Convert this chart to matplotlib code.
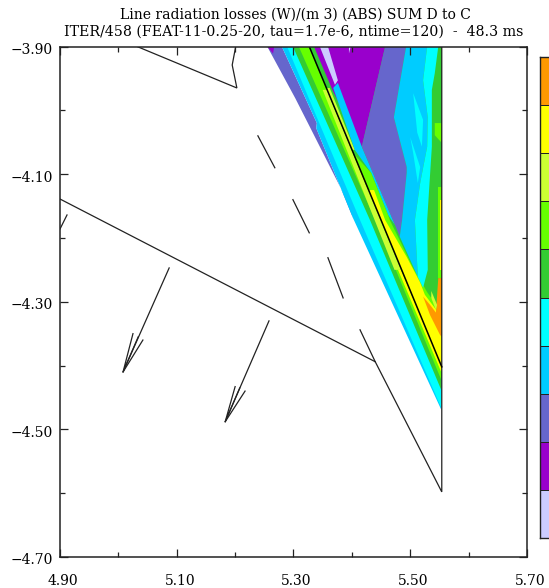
import matplotlib
matplotlib.use("Agg")
import numpy as np
import matplotlib.pyplot as plt
from matplotlib.colors import ListedColormap
from matplotlib.transforms import ScaledTranslation

# level colours, low to high
level_colors = ["#ccccff", "#9900cc", "#6666cc", "#00ccff", "#00ffff",
                "#33cc33", "#66ff00", "#ccff33", "#ffff00", "#ff9900"]
LAV, PUR, SLA, BLU, CYA, GRN, LIM, YGR, YEL, ORA = level_colors

x_ticks = [4.90, 5.10, 5.30, 5.50, 5.70]
y_ticks = [-3.90, -4.10, -4.30, -4.50, -4.70]
x_minor = [5.00, 5.20, 5.40, 5.60]
y_minor = [-4.00, -4.20, -4.40, -4.60]

# filled bands, painted in this order (R, Z)
left_slate = [(5.255, -3.90), (5.280, -3.90), (5.340, -4.020), (5.339, -4.028), (5.402, -4.169),
              (5.397, -4.151), (5.328, -4.026), (5.303, -3.981)]
left_magenta = [(5.255, -3.90), (5.267, -3.90), (5.265, -3.911)]
left_blue = [(5.280, -3.90), (5.327, -3.90), (5.554, -4.402), (5.553, -4.469), (5.402, -4.169),
             (5.339, -4.028), (5.340, -4.020)]
left_cyan = [(5.289, -3.90), (5.327, -3.90), (5.554, -4.402), (5.553, -4.466), (5.414, -4.172)]
left_green = [(5.299, -3.90), (5.327, -3.90), (5.554, -4.402), (5.553, -4.438), (5.431, -4.172)]
left_lime = [(5.309, -3.90), (5.327, -3.90), (5.554, -4.402), (5.553, -4.422), (5.440, -4.172)]
left_ygreen = [(5.350, -3.968), (5.357, -3.968), (5.484, -4.250), (5.473, -4.250)]
left_yellow = [(5.479, -4.250), (5.484, -4.250), (5.554, -4.402), (5.553, -4.410)]

right_green = [(5.327, -3.90), (5.554, -3.90), (5.554, -4.402)]
right_purple = [(5.335, -3.90), (5.457, -3.90), (5.417, -4.057), (5.368, -3.971)]
right_lav = [(5.345, -3.90), (5.359, -3.90), (5.376, -3.953), (5.371, -3.960)]
right_lav2 = [(5.395, -3.90), (5.398, -3.90), (5.395, -3.911)]
right_ygreen = [(5.356, -3.965), (5.362, -3.965), (5.405, -4.062), (5.400, -4.062)]
strip_blue = [(5.368, -3.965), (5.376, -3.957), (5.417, -4.057), (5.474, -4.180), (5.462, -4.164),
              (5.433, -4.098), (5.405, -4.062)]
right_lime = [(5.402, -4.067), (5.433, -4.098), (5.462, -4.164), (5.465, -4.172), (5.505, -4.247),
              (5.529, -4.285), (5.554, -4.317), (5.554, -4.402)]
right_yellow = [(5.428, -4.125), (5.438, -4.125), (5.457, -4.172), (5.494, -4.230), (5.517, -4.270),
                (5.525, -4.289), (5.548, -4.317), (5.554, -4.317), (5.554, -4.402)]
right_slate = [(5.457, -3.90), (5.493, -3.90), (5.472, -4.011), (5.494, -4.089), (5.494, -4.098),
               (5.486, -4.172), (5.482, -4.198), (5.474, -4.180), (5.417, -4.057)]
right_blue = [(5.493, -3.90), (5.529, -3.90), (5.522, -3.953), (5.530, -4.011), (5.529, -4.057),
              (5.517, -4.114), (5.508, -4.172), (5.513, -4.261), (5.482, -4.198), (5.486, -4.172),
              (5.494, -4.098), (5.494, -4.089), (5.472, -4.011)]
right_cyan = [(5.529, -3.90), (5.548, -3.90), (5.542, -3.942), (5.537, -3.968), (5.537, -4.057),
              (5.529, -4.172), (5.530, -4.250), (5.522, -4.278), (5.513, -4.261),
              (5.508, -4.172), (5.517, -4.114), (5.529, -4.057), (5.530, -4.011), (5.522, -3.953)]
streak_1 = [(5.505, -3.973), (5.522, -4.015), (5.520, -4.057), (5.512, -4.035)]
streak_2 = [(5.500, -4.042), (5.517, -4.089), (5.513, -4.114), (5.505, -4.067)]
wall_lime_1 = [(5.542, -4.020), (5.554, -4.020), (5.554, -4.051), (5.542, -4.039)]
wall_lime_2 = [(5.548, -4.120), (5.554, -4.120), (5.554, -4.263), (5.548, -4.263)]
wall_yellow = [(5.551, -4.140), (5.554, -4.140), (5.554, -4.250), (5.551, -4.250)]
right_orange = [(5.522, -4.292), (5.534, -4.305), (5.544, -4.317), (5.548, -4.263), (5.554, -4.263),
                (5.554, -4.355), (5.551, -4.352), (5.534, -4.321)]
orange_streak = [(5.536, -4.283), (5.546, -4.305), (5.544, -4.313), (5.536, -4.294)]

bands = [(left_slate, SLA), (left_magenta, PUR), (left_blue, BLU), (left_cyan, CYA),
         (left_green, GRN), (left_lime, LIM), (left_ygreen, YGR), (left_yellow, YEL),
         (right_green, GRN), (right_purple, PUR), (right_lav, LAV), (right_lav2, LAV),
         (right_ygreen, YGR), (strip_blue, BLU), (right_lime, LIM), (right_yellow, YEL),
         (right_slate, SLA), (right_blue, BLU), (right_cyan, CYA), (streak_1, CYA), (streak_2, CYA),
         (wall_lime_1, LIM), (wall_lime_2, LIM), (wall_yellow, YEL),
         (right_orange, ORA), (orange_streak, YGR)]

# vessel structures and the two arrows
structures = [
    [(5.032, -3.90), (5.203, -3.965), (5.195, -3.929), (5.201, -3.90)],
    [(4.90, -4.139), (5.440, -4.394), (5.554, -4.598), (5.554, -3.90)],
    [(5.414, -4.344), (5.440, -4.394)],
    [(5.239, -4.040), (5.268, -4.090)],
    [(5.299, -4.140), (5.327, -4.192)],
    [(5.359, -4.231), (5.385, -4.294)],
    [(4.912, -4.164), (4.90, -4.186)],
    [(5.087, -4.247), (5.008, -4.410)],
    [(5.025, -4.350), (5.008, -4.410), (5.034, -4.355)],
    [(5.042, -4.360), (5.008, -4.410)],
    [(5.258, -4.330), (5.183, -4.488)],
    [(5.200, -4.433), (5.183, -4.488), (5.208, -4.435)],
    [(5.217, -4.440), (5.183, -4.488)],
]
separatrix = [(5.327, -3.90), (5.554, -4.402)]

title_1 = "Line radiation losses (W)/(m 3) (ABS) SUM D to C"
title_2 = "ITER/458 (FEAT-11-0.25-20, tau=1.7e-6, ntime=120)  -  48.3 ms"

plt.rcParams["font.family"] = ["DejaVu Serif"]
W, H = 549, 588
DARK = "#222222"
fig = plt.figure(figsize=(W / 100, H / 100), dpi=100)
ax = fig.add_axes([60 / W, 1 - 557 / H, 467 / W, 510.5 / H])

for pts, col in bands:
    xs, ys = zip(*pts)
    ax.fill(xs, ys, color=col, lw=0)
for pts in structures:
    xs, ys = zip(*pts)
    ax.plot(xs, ys, color=DARK, lw=0.9, solid_joinstyle="miter")
xs, ys = zip(*separatrix)
ax.plot(xs, ys, color="black", lw=1.1)

ax.set_xlim(4.90, 5.70)
ax.set_ylim(-4.70, -3.90)
ax.set_xticks(x_ticks)
ax.set_yticks(y_ticks)
ax.set_xticks(x_minor, minor=True)
ax.set_yticks(y_minor, minor=True)
ax.set_xticklabels([f"{v:.2f}" for v in x_ticks])
ax.set_yticklabels([f"\u2212{abs(v):.2f}" for v in y_ticks])
ax.tick_params(which="major", direction="in", top=True, right=True, length=6, width=0.9, color=DARK,
               labelsize=10, labelcolor="black")
ax.tick_params(which="minor", direction="in", top=True, right=True, length=3.5, width=0.9, color=DARK)
ax.tick_params(axis="x", which="major", pad=12)
ax.tick_params(axis="y", which="major", pad=5)
for s in ax.spines.values():
    s.set_linewidth(1.1)
    s.set_color(DARK)

# tick labels sit a little off their ticks in the original
for lab in ax.get_xticklabels():
    lab.set_transform(lab.get_transform() + ScaledTranslation(3 / 100, 0, fig.dpi_scale_trans))
for lab in ax.get_yticklabels():
    lab.set_transform(lab.get_transform() + ScaledTranslation(0, -2 / 100, fig.dpi_scale_trans))

fig.text(295 / W, 1 - 15 / H, title_1, ha="center", va="center", fontsize=10)
fig.text(294 / W, 1 - 32 / H, title_2, ha="center", va="center", fontsize=10.2)

# colour bar, runs off the right edge of the figure
cax = fig.add_axes([539.5 / W, 1 - 537.7 / H, 30 / W, 480.4 / H])
cells = np.arange(len(level_colors)).reshape(-1, 1)
cax.pcolormesh([0, 1], np.arange(len(level_colors) + 1), cells,
               cmap=ListedColormap(level_colors), edgecolors=DARK, linewidth=0.7)
cax.set_xticks([])
cax.set_yticks([])
for s in cax.spines.values():
    s.set_linewidth(1.0)
    s.set_color(DARK)

fig.savefig("out.png", dpi=100)
